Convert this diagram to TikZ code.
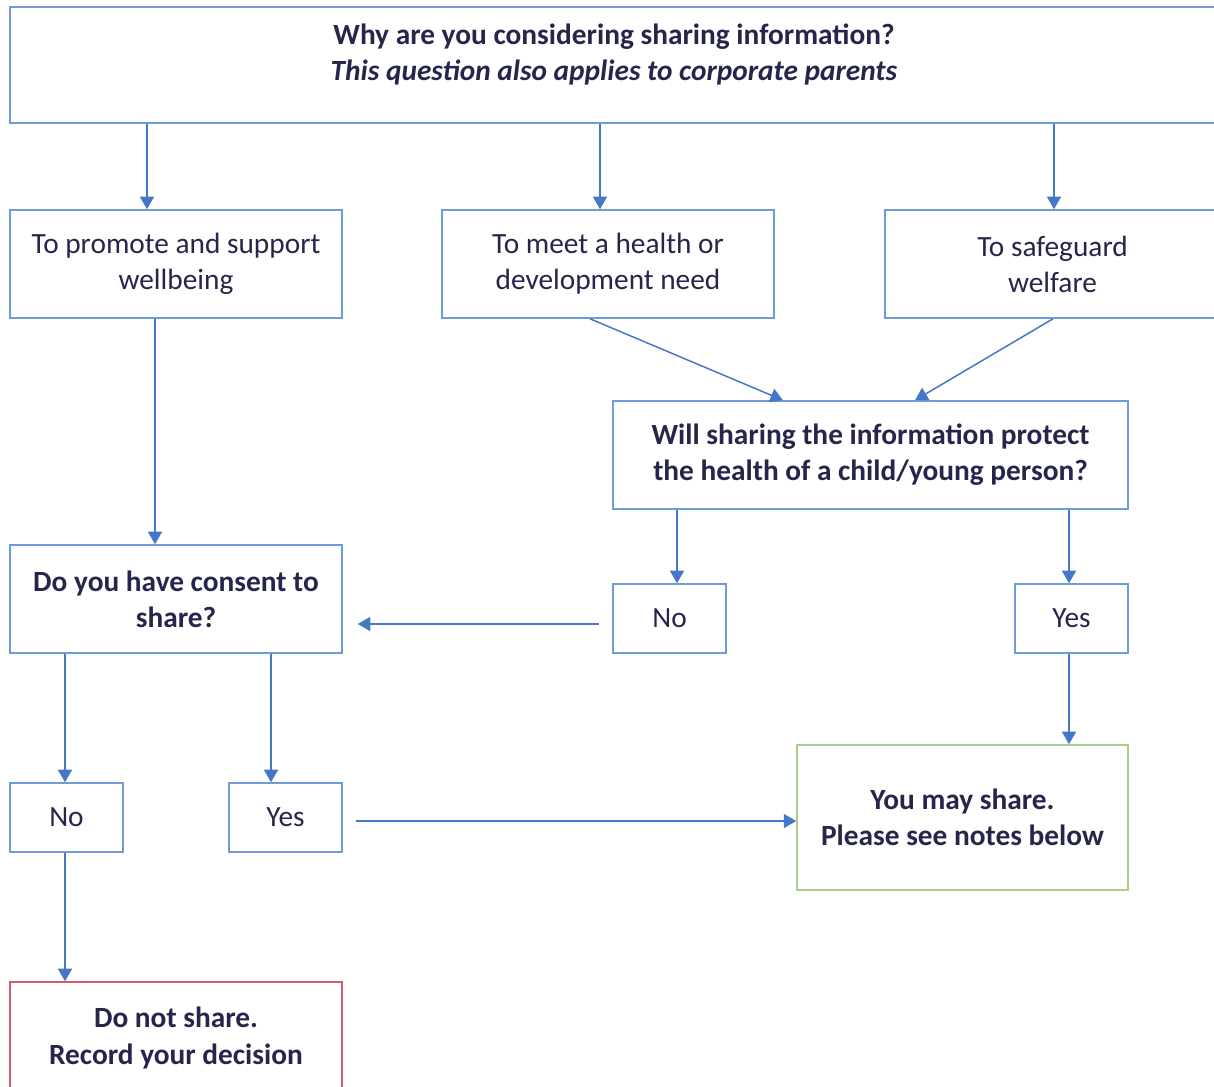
\documentclass[tikz,border=0pt]{standalone}
\usepackage{fontspec}
\setmainfont{Carlito}
\usetikzlibrary{arrows.meta}
\definecolor{boxblue}{HTML}{6F9BD6}
\definecolor{arrowblue}{HTML}{4676C8}
\definecolor{txtnavy}{HTML}{26264C}
\definecolor{boxgreen}{HTML}{A8CF8A}
\definecolor{boxred}{HTML}{D9596A}

\begin{document}
\begin{tikzpicture}[x=0.02cm, y=-0.02cm,%une unite = un pixel de l'image
        every node/.style={font=\fontsize{16.7}{20.5}\selectfont, text=txtnavy, align=center, inner sep=0pt},
        box/.style={draw=boxblue, line width=0.9pt, fill=white},%cadre bleu
        small/.style={box, minimum width=2.26cm, minimum height=1.38cm},%cadres Oui/Non
        fleche/.style={draw=arrowblue, line width=0.85pt, -{Triangle[width=0.28cm,length=0.25cm]}}]
    \useasboundingbox (0,0) rectangle (1214,1086);
    \clip (0,0) rectangle (1214,1086);

    % question du haut
    \node[box, minimum width=24.3cm, minimum height=2.32cm] (why) at (617.5,65) {};
    \node (whytext) at (614,54) {\textbf{Why are you considering sharing information?}\\
        \textbf{\textit{This question also applies to corporate parents}}};

    % les trois raisons
    \node[box, minimum width=6.64cm, minimum height=2.16cm] (wellbeing) at (176,264) {To promote and support\\ wellbeing};
    \node[box, minimum width=6.64cm, minimum height=2.16cm] (health) at (608,264) {To meet a health or\\ development need};
    \node[box, minimum width=6.7cm, minimum height=2.16cm] (safeguard) at (1052.5,264) {To safeguard\\ welfare};

    \node[box, minimum width=10.3cm, minimum height=2.16cm] (protect) at (870.5,455) {\textbf{Will sharing the information protect}\\ \textbf{the health of a child/young person?}};
    \node[box, minimum width=6.64cm, minimum height=2.16cm] (consent) at (176,599) {\textbf{Do you have consent to}\\ \textbf{share?}};

    \node[small] (noR) at (669.5,618.5) {No};
    \node[small] (yesR) at (1071.5,618.5) {Yes};
    \node[small] (noL) at (66.5,817.5) {No};
    \node[small] (yesL) at (285.5,817.5) {Yes};

    % les deux issues
    \node[box, draw=boxgreen, minimum width=6.62cm, minimum height=2.9cm] (share) at (962.5,817.5) {\textbf{You may share.}\\ \textbf{Please see notes below}};
    \node[box, draw=boxred, minimum width=6.64cm, minimum height=2.24cm] (noshare) at (176,1038) {\textbf{Do not share.}\\ \textbf{Record your decision}};

    % fleches
    \draw[fleche] (why.south -| 147,0) -- (wellbeing.north -| 147,0);
    \draw[fleche] (why.south -| 600,0) -- (health.north -| 600,0);
    \draw[fleche] (why.south -| 1054,0) -- (safeguard.north -| 1054,0);
    \draw[fleche] (health.south -| 590,0) -- (protect.north -| 783,0);
    \draw[fleche] (safeguard.south -| 1053,0) -- (protect.north -| 915,0);
    \draw[fleche] (wellbeing.south -| 155,0) -- (consent.north -| 155,0);
    \draw[fleche] (protect.south -| 677,0) -- (noR.north -| 677,0);
    \draw[fleche] (protect.south -| 1069,0) -- (yesR.north -| 1069,0);
    \draw[fleche, shorten <=0.26cm, shorten >=0.3cm] ([yshift=-0.11cm]noR.west) -- ([yshift=-0.11cm]consent.east |- noR.west);
    \draw[fleche] (consent.south -| 65,0) -- (noL.north -| 65,0);
    \draw[fleche] (consent.south -| 271,0) -- (yesL.north -| 271,0);
    \draw[fleche, shorten <=0.26cm] ([yshift=-0.07cm]yesL.east) -- ([yshift=-0.07cm]share.west |- yesL.east);
    \draw[fleche] (yesR.south -| 1069,0) -- (share.north -| 1069,0);
    \draw[fleche] (noL.south -| 65,0) -- (noshare.north -| 65,0);
\end{tikzpicture}
\end{document}
